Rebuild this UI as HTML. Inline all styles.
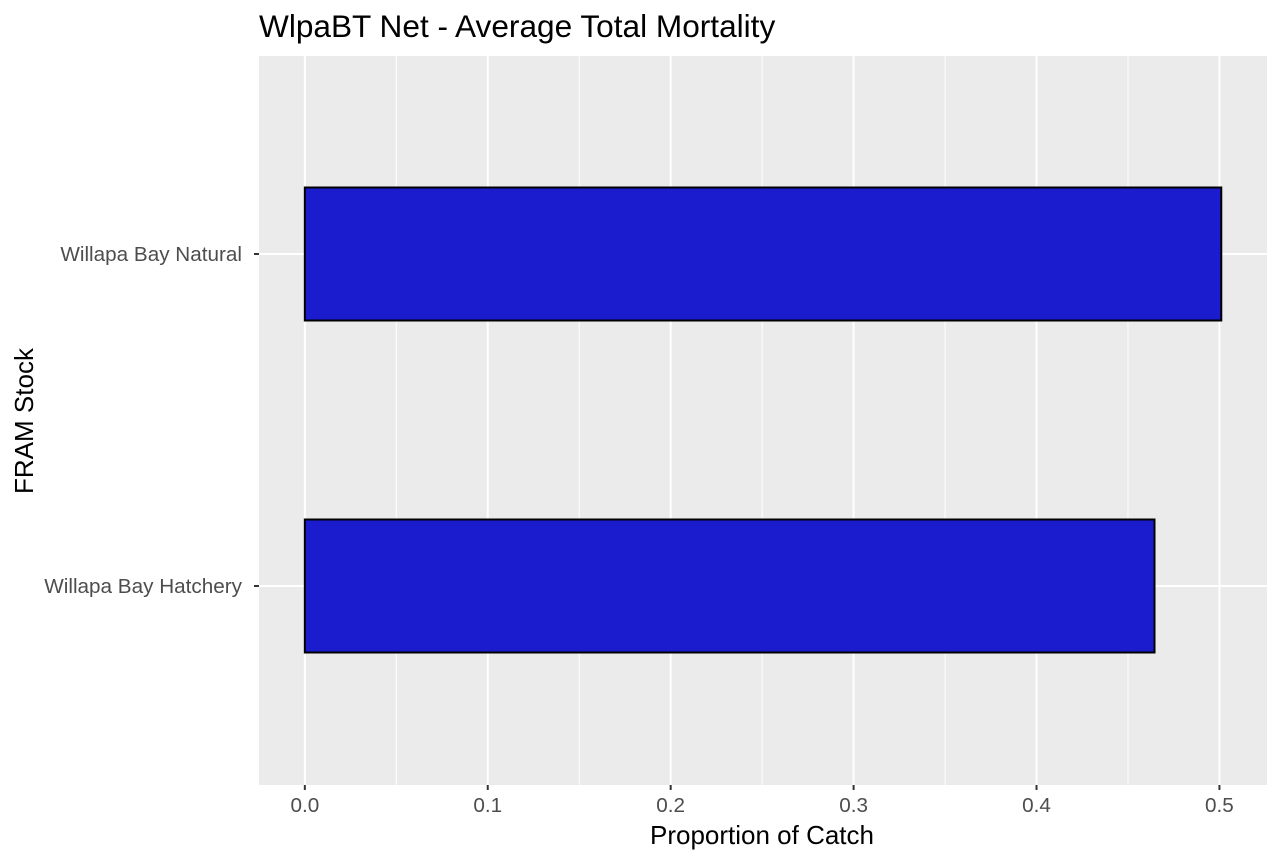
<!DOCTYPE html>
<html><head><meta charset="utf-8"><style>
body{margin:0;background:#fff;font-family:"Liberation Sans",Arial,sans-serif}
</style></head><body>
<svg width="1280" height="862" xmlns="http://www.w3.org/2000/svg">
<text x="259" y="37" font-size="31.6" fill="#000">WlpaBT Net - Average Total Mortality</text>
<rect x="259" y="56" width="1008" height="729" fill="#ebebeb"/>
<g id="grid"></g>
<g id="bars"></g>
<g id="axes"></g>
<text x="762" y="844" font-size="26" text-anchor="middle" fill="#000">Proportion of Catch</text>
<text transform="translate(33,421) rotate(-90)" font-size="26" text-anchor="middle" fill="#000">FRAM Stock</text>
</svg>
<script>
const categories=["Willapa Bay Natural","Willapa Bay Hatchery"];
const values=[0.501,0.4645];
const ticks=[0,0.1,0.2,0.3,0.4,0.5];
const tickLabels=["0.0","0.1","0.2","0.3","0.4","0.5"];
const NS="http://www.w3.org/2000/svg";
const px0=259,px1=1267,py0=56,py1=785;
const xmin=-0.02505,xmax=0.526;
function xs(v){return px0+(v-xmin)/(xmax-xmin)*(px1-px0);}
function yc(i){return 254+i*332;}
function mk(t,a,p){const e=document.createElementNS(NS,t);for(const k in a)e.setAttribute(k,a[k]);p.appendChild(e);return e;}
const g=document.getElementById('grid'),b=document.getElementById('bars'),ax=document.getElementById('axes');
for(let i=0;i<ticks.length-1;i++){const m=(ticks[i]+ticks[i+1])/2;
const l=mk('line',{x1:xs(m),x2:xs(m),y1:py0,y2:py1,stroke:'#fff','stroke-width':1},g);

}
ticks.forEach((t,i)=>{
const l=mk('line',{x1:xs(t),x2:xs(t),y1:py0,y2:py1,stroke:'#fff','stroke-width':2},g);


const tk=mk('line',{x1:xs(t),x2:xs(t),y1:py1,y2:py1+5,stroke:'#333','stroke-width':2},ax);


const tx=mk('text',{x:xs(t),y:py1+27,'font-size':20.7,'text-anchor':'middle',fill:'#4d4d4d'},ax);
tx.textContent=tickLabels[i];

});
categories.forEach((c,i)=>{const y=yc(i);
const l=mk('line',{x1:px0,x2:px1,y1:y,y2:y,stroke:'#fff','stroke-width':2},g);


const r=mk('rect',{x:xs(0),y:y-66.5,width:xs(values[i])-xs(0),height:133,fill:'#1c1ccf',stroke:'#000','stroke-width':2},b);


const tk=mk('line',{x1:px0-5,x2:px0,y1:y,y2:y,stroke:'#333','stroke-width':2},ax);


const tx=mk('text',{x:px0-17,y:y+7,'font-size':20.7,'text-anchor':'end',fill:'#4d4d4d'},ax);
tx.textContent=c;

});
</script>
</body></html>
